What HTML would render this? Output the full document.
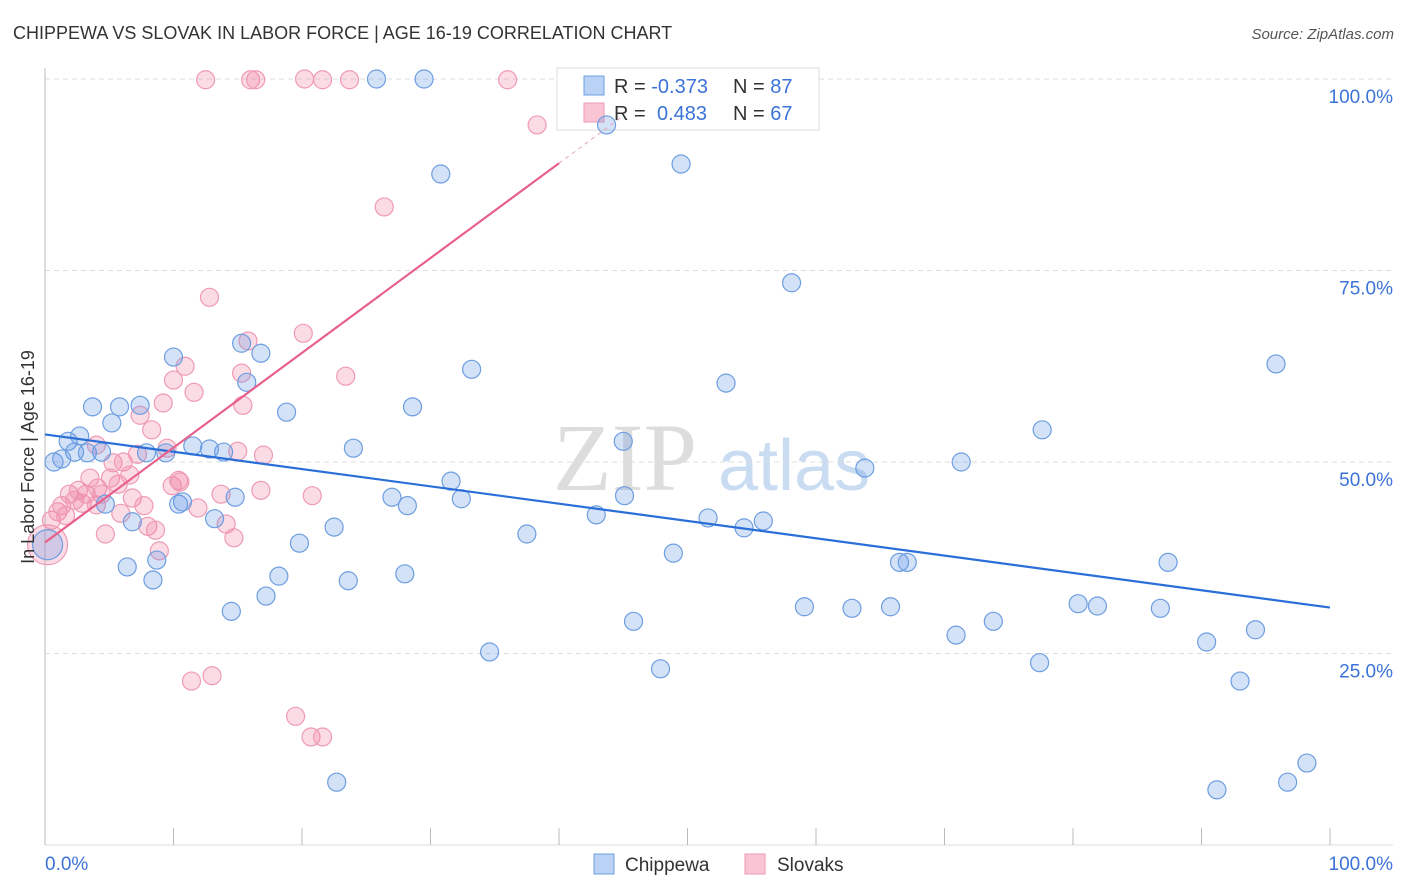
<!DOCTYPE html>
<html><head><meta charset="utf-8"><style>
body{margin:0;background:#fff;font-family:"Liberation Sans",sans-serif}
svg{display:block}
</style></head><body>
<svg id="chart" width="1406" height="892">
<text x="13" y="39" font-size="18" fill="#333">CHIPPEWA VS SLOVAK IN LABOR FORCE | AGE 16-19 CORRELATION CHART</text>
<text x="1394" y="39" font-size="15" fill="#555" font-style="italic" text-anchor="end">Source: ZipAtlas.com</text>
<g><text x="553" y="490" font-size="96" font-family="Liberation Serif,serif" fill="#ddd">ZIP</text><text x="718" y="490" font-size="72" fill="#c9dcf2">atlas</text></g>
<g id="grid"></g><g id="axes"></g>
<g>
<rect x="557" y="68" width="262" height="62" fill="#fff" stroke="#ddd"/>
<rect x="584" y="76" width="20" height="19" fill="#b9d2f5" stroke="#6d9ee0"/>
<rect x="584" y="103" width="20" height="19" fill="#f9c5d5" stroke="#ef9ab3"/>
<text x="614" y="93" font-size="20" fill="#333">R = <tspan fill="#3b73d8">-0.373</tspan></text>
<text x="733" y="93" font-size="20" fill="#333">N = <tspan fill="#3b73d8">87</tspan></text>
<text x="614" y="120" font-size="20" fill="#333">R = <tspan fill="#3b73d8" x="657">0.483</tspan></text>
<text x="733" y="120" font-size="20" fill="#333">N = <tspan fill="#3b73d8">67</tspan></text>
</g>
<g id="pts"></g><g id="lines"></g>
<text transform="translate(34,457) rotate(-90)" font-size="18" fill="#333" text-anchor="middle">In Labor Force | Age 16-19</text>
<g>
<rect x="594" y="854" width="20" height="20" fill="#b9d2f5" stroke="#6d9ee0"/>
<text x="625" y="871" font-size="19" fill="#333">Chippewa</text>
<rect x="745" y="854" width="20" height="20" fill="#f9c5d5" stroke="#ef9ab3"/>
<text x="777" y="871" font-size="19" fill="#333">Slovaks</text>
</g>
</svg>
<script>
const blueX=[0.7,1.3,1.8,2.3,2.7,3.3,3.7,4.4,4.7,5.2,5.8,6.4,6.8,7.4,7.9,8.4,8.7,9.4,10.0,10.4,10.7,11.5,12.8,13.2,13.9,14.5,14.8,15.3,15.7,16.8,17.2,18.2,18.8,19.8,22.5,22.7,23.6,24.0,25.8,27.0,28.0,28.2,28.6,29.5,30.8,31.6,32.4,33.2,34.6,37.5,42.9,43.7,45.0,45.1,45.8,47.9,48.9,49.5,51.6,53.0,54.4,55.9,58.1,59.1,62.8,63.8,65.8,66.5,67.1,70.9,71.3,73.8,77.4,77.6,80.4,81.9,86.8,87.4,90.4,91.2,93.0,94.2,95.8,96.7,98.2];
const blueY=[50.0,50.4,52.7,51.3,53.4,51.2,57.2,51.3,44.5,55.1,57.2,36.3,42.2,57.4,51.2,34.6,37.2,51.2,63.7,44.5,44.8,52.1,51.7,42.6,51.3,30.5,45.4,65.5,60.4,64.2,32.5,35.1,56.5,39.4,41.5,8.2,34.5,51.8,100,45.4,35.4,44.3,57.2,100,87.6,47.5,45.2,62.1,25.2,40.6,43.1,94.0,52.7,45.6,29.2,23.0,38.1,88.9,42.7,60.3,41.4,42.3,73.4,31.1,30.9,49.2,31.1,36.9,36.9,27.4,50.0,29.2,23.8,54.2,31.5,31.2,30.9,36.9,26.5,7.2,21.4,28.1,62.8,8.2,10.7];
const pinkX=[0.5,1.0,1.3,1.6,1.9,2.3,2.6,2.9,3.2,3.5,4.0,4.0,4.1,4.4,4.7,5.1,5.3,5.7,5.9,6.1,6.6,6.8,7.2,7.4,7.7,8.0,8.3,8.6,8.9,9.2,9.5,9.9,10.0,10.4,10.5,10.9,11.4,11.6,11.9,12.5,12.8,13.0,13.7,14.1,14.7,15.0,15.3,15.4,15.8,16.0,16.4,16.8,17.0,19.5,20.1,20.2,20.7,20.8,21.6,21.6,23.4,23.7,26.4,36.0,38.3];
const pinkY=[42.4,43.5,44.3,43.0,45.8,45.0,46.3,44.6,45.8,47.9,52.2,44.4,46.6,45.8,40.6,47.9,49.9,47.1,43.3,50.0,48.3,45.3,51.0,56.1,44.3,41.6,54.2,41.1,38.4,57.7,51.8,46.9,60.7,47.6,47.4,62.5,21.4,59.1,44.0,99.9,71.5,22.1,45.8,41.9,40.1,51.4,61.6,57.4,65.8,99.9,99.9,46.3,50.9,16.8,66.8,100,14.1,45.6,99.9,14.1,61.2,99.9,83.3,99.9,94.0];
const bigX=[0.2], bigY=[39.2];
const yTicks=[25,50,75,100];
const yTickLabels=["25.0%","50.0%","75.0%","100.0%"];
const blueTrend=[53.6,31.0];
const pinkTrend=[39.5,89.0,40];

const X0=45,X1=1330,YT=79,YB=845;
const sx=v=>X0+(X1-X0)*v/100, sy=v=>YB-(YB-YT)*v/100;
const NS="http://www.w3.org/2000/svg";
function mk(tag,attrs,parent){const e=document.createElementNS(NS,tag);for(const k in attrs)e.setAttribute(k,attrs[k]);document.getElementById(parent).appendChild(e);return e;}
yTicks.forEach((t,i)=>{
  const l=mk('line',{x1:45,x2:1393,y1:sy(t),y2:sy(t),stroke:'#ddd','stroke-dasharray':'5,4'},'grid');
  
  
  const tx=mk('text',{x:1393,y:sy(t)+24,'font-size':19,fill:'#3b73d8','text-anchor':'end'},'grid');
  tx.textContent=yTickLabels[i];
  
  
});
const ya=mk('line',{x1:45,x2:45,y1:68,y2:845,stroke:'#bbb'},'axes');


const xa=mk('line',{x1:45,x2:1393,y1:845,y2:845,stroke:'#ddd'},'axes');


for(let i=0;i<=10;i++){const t=mk('line',{x1:sx(i*10),x2:sx(i*10),y1:828,y2:845,stroke:'#bbb'},'axes');
  
  }
const l0=mk('text',{x:45,y:870,'font-size':19,fill:'#3b73d8'},'axes');l0.textContent='0.0%';


const l1=mk('text',{x:1393,y:870,'font-size':19,fill:'#3b73d8','text-anchor':'end'},'axes');l1.textContent='100.0%';


function dots(xs,ys,fill,stroke,name,r){xs.forEach((x,i)=>{const c=mk('circle',{cx:sx(x),cy:sy(ys[i]),r:r,fill:fill,stroke:stroke,'stroke-width':1.2},'pts');
  
  });}
dots(pinkX,pinkY,'rgba(240,130,160,0.28)','#ef9ab3','slovaks-point',9);
dots(blueX,blueY,'rgba(100,150,230,0.28)','#6d9ee0','chippewa-point',9);
dots(bigX,bigY,'rgba(240,130,160,0.28)','#ef9ab3','slovaks-point-large',20);
dots(bigX,bigY,'rgba(100,150,230,0.28)','#6d9ee0','chippewa-point-large',15);
const bl=mk('line',{x1:sx(0),y1:sy(blueTrend[0]),x2:sx(100),y2:sy(blueTrend[1]),stroke:'#2a6fd8','stroke-width':2.2},'lines');


const pl=mk('line',{x1:sx(0),y1:sy(pinkTrend[0]),x2:sx(pinkTrend[2]),y2:sy(pinkTrend[1]),stroke:'#e8608c','stroke-width':2.2},'lines');


const slope=(pinkTrend[1]-pinkTrend[0])/pinkTrend[2];
const pd=mk('line',{x1:sx(pinkTrend[2]),y1:sy(pinkTrend[1]),x2:sx(45),y2:sy(pinkTrend[0]+slope*45),stroke:'#e8a0b8','stroke-width':1,'stroke-dasharray':'4,4'},'lines');


</script>
</body></html>
